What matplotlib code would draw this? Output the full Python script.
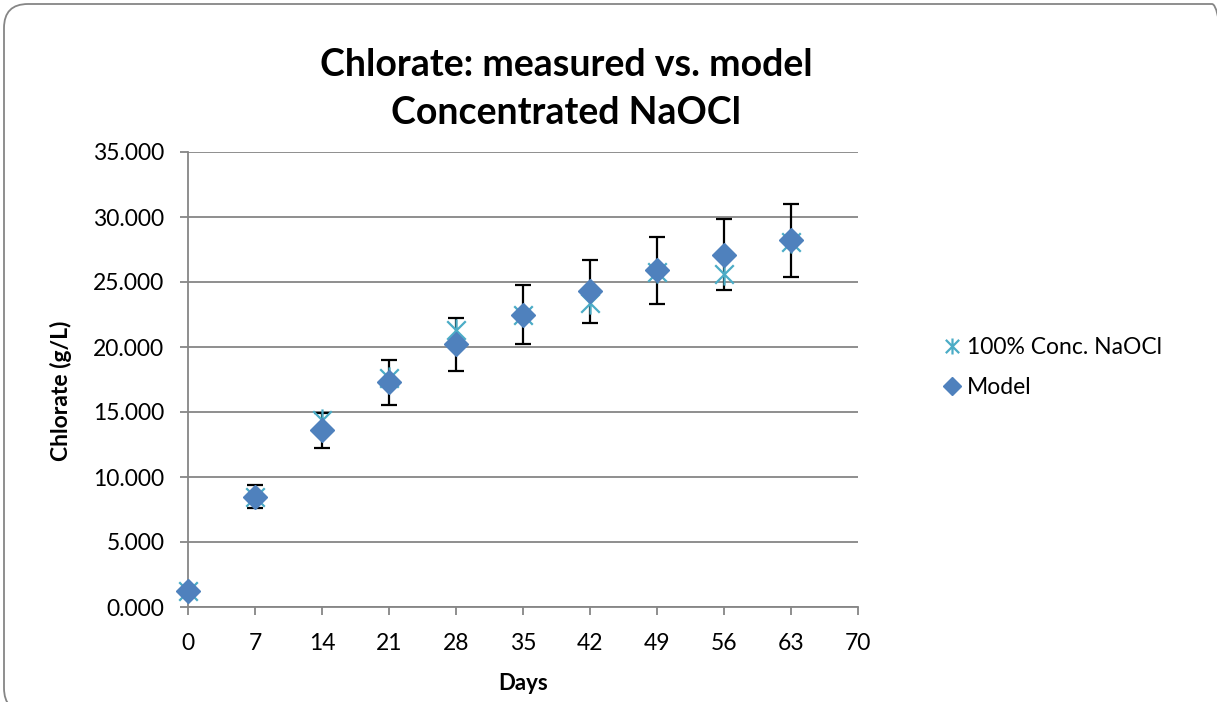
import numpy as np
import matplotlib.pyplot as plt
from matplotlib.path import Path
from matplotlib.patches import FancyBboxPatch
from matplotlib.transforms import IdentityTransform
from matplotlib.ticker import FormatStrFormatter

# values
days = [0, 7, 14, 21, 28, 35, 42, 49, 56, 63]
measured = [1.2, 8.5, 14.4, 17.6, 21.3, 22.5, 23.4, 25.8, 25.6, 28.1]
model = [1.2, 8.5, 13.6, 17.3, 20.2, 22.5, 24.3, 25.9, 27.1, 28.2]
model_err = [0.12, 0.85, 1.36, 1.73, 2.02, 2.25, 2.43, 2.59, 2.71, 2.82]
x_ticks = [0, 7, 14, 21, 28, 35, 42, 49, 56, 63, 70]
y_ticks = [0, 5, 10, 15, 20, 25, 30, 35]

plt.rcParams['font.family'] = ['Lato', 'DejaVu Sans']

# excel style star marker: an x with a vertical bar through it
star = Path([(-1, -1), (1, 1), (-1, 1), (1, -1), (0, -1.2), (0, 1.2)],
            [Path.MOVETO, Path.LINETO, Path.MOVETO, Path.LINETO, Path.MOVETO, Path.LINETO])

fig = plt.figure(figsize=(12.17, 7.02), dpi=100)
ax = fig.add_axes([188 / 1217, 95 / 702, 670 / 1217, 455 / 702])

ax.errorbar(days, model, yerr=model_err, fmt='none', ecolor='black',
            elinewidth=1.6, capsize=6, capthick=1.6, zorder=3)
ax.plot(days, measured, linestyle='none', marker=star, markersize=16,
        markeredgewidth=1.6, color='#4BACC6', label='100% Conc. NaOCl',
        zorder=4, clip_on=False)
ax.plot(days, model, linestyle='none', marker='D', markersize=12.5,
        color='#4F81BD', label='Model', zorder=5, clip_on=False)

ax.set_xlim(0, 70)
ax.set_ylim(0, 35)
ax.set_xticks(x_ticks)
ax.set_yticks(y_ticks)
ax.yaxis.set_major_formatter(FormatStrFormatter('%.3f'))
ax.grid(axis='y', color='#868686', linewidth=1.3)
ax.set_axisbelow(True)
for side in ['top', 'right']:
    ax.spines[side].set_visible(False)
for side in ['left', 'bottom']:
    ax.spines[side].set_color('#868686')
    ax.spines[side].set_linewidth(1.3)
ax.tick_params(axis='both', direction='out', length=6, width=1.3,
               color='#868686', labelsize=16.5)
ax.tick_params(axis='y', pad=11)
ax.tick_params(axis='x', pad=13)

fig.text(61 / 1217, 1 - 391 / 702, 'Chlorate (g/L)', rotation=90, ha='center',
         va='center', fontsize=16.5, fontweight='bold')
fig.text(523 / 1217, 1 - 684 / 702, 'Days', ha='center', va='center',
         fontsize=16, fontweight='bold')
fig.text(566 / 1217, 1 - 65 / 702, 'Chlorate: measured vs. model',
         ha='center', va='center', fontsize=27, fontweight='bold')
fig.text(566 / 1217, 1 - 113 / 702, 'Concentrated NaOCl',
         ha='center', va='center', fontsize=27, fontweight='bold')

fig.legend(loc='upper left', bbox_to_anchor=(922 / 1217, 1 - 316 / 702),
           frameon=False, fontsize=16.5, handlelength=0.8, handletextpad=0.25,
           labelspacing=0.85, markerscale=0.72)

# chart-area border with rounded corners, in pixels, running past right and bottom
border = FancyBboxPatch((4, -10), 1232, 708, transform=IdentityTransform(),
                        boxstyle='round,pad=0,rounding_size=24',
                        facecolor='none', edgecolor='#868686', linewidth=1.3)
fig.patches.append(border)

fig.savefig('out.png', dpi=100)
